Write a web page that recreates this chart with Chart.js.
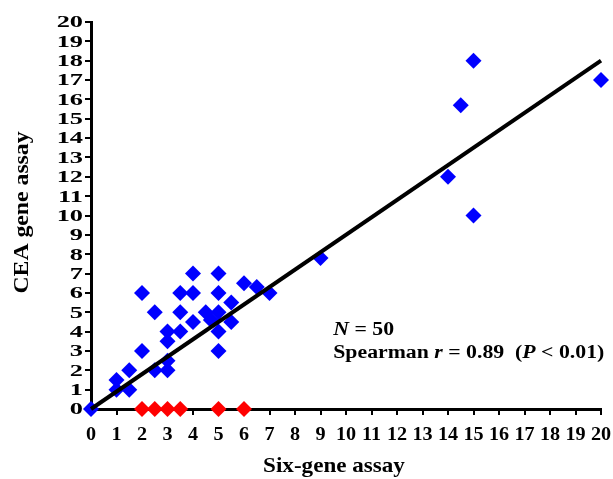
<!DOCTYPE html>
<html lang="en">
<head>
    <meta charset="UTF-8">
    <title>Six-gene assay vs CEA gene assay</title>
    <script src="https://cdn.jsdelivr.net/npm/chart.js"></script>
    <style>
        body { margin: 0; background: #fff; }
        #chart { display: block; }
    </style>
</head>
<body>
    <canvas id="chart" width="613" height="479"></canvas>
    <script>
        // blue diamonds (both assays positive)
        const blueX = [0, 1, 1, 1.5, 1.5, 2, 2, 2.5, 2.5, 3, 3, 3, 3, 3.5, 3.5, 3.5, 4, 4, 4, 4.5, 4.7,
                       5, 5, 5, 5, 5, 5.5, 5.5, 6, 6.5, 7, 9, 14, 14.5, 15, 15, 20];
        const blueY = [0, 1.5, 1, 1, 2, 3, 6, 2, 5, 2.5, 2, 3.5, 4, 4, 5, 6, 7, 6, 4.5, 5, 4.6,
                       7, 6, 5, 4, 3, 5.5, 4.5, 6.5, 6.3, 6, 7.8, 12, 15.7, 18, 10, 17];
        // red diamonds (CEA negative)
        const redX = [2, 2.5, 3, 3.5, 5, 6];
        const redY = [0, 0, 0, 0, 0, 0];
        // fitted line end points
        const fitX = [0, 20];
        const fitY = [0, 18];

        const xTitle = 'Six-gene assay';
        const yTitle = 'CEA gene assay';

        const toPoints = (xs, ys) => xs.map((x, i) => ({ x: x, y: ys[i] }));

        const serif = "'Liberation Serif', 'Times New Roman', serif";

        // the original figure has horizontally stretched lettering, so text is drawn by hand
        function drawText(ctx, text, x, y, font, sx, align, baseline, rot) {
            ctx.save();
            ctx.translate(x, y);
            if (rot) ctx.rotate(rot);
            ctx.scale(sx, 1);
            ctx.font = font;
            ctx.textAlign = align;
            ctx.textBaseline = baseline;
            ctx.fillText(text, 0, 0);
            ctx.restore();
        }

        const textLayer = {
            id: 'textLayer',
            afterDraw(chart) {
                const ctx = chart.ctx;
                const xs = chart.scales.x, ys = chart.scales.y;
                const area = chart.chartArea;
                ctx.save();
                ctx.fillStyle = '#000';

                // tick labels
                ys.ticks.forEach(t => {
                    drawText(ctx, String(t.value), area.left - 8, ys.getPixelForValue(t.value) + 1,
                             'bold 17px ' + serif, 1.55, 'right', 'middle');
                });
                xs.ticks.forEach(t => {
                    drawText(ctx, String(t.value), xs.getPixelForValue(t.value), area.bottom + 26,
                             'bold 18px ' + serif, 1.12, 'center', 'middle');
                });

                // axis titles
                drawText(ctx, xTitle, (area.left + area.right) / 2 - 12, area.bottom + 63,
                         'bold 21px ' + serif, 1.1, 'center', 'alphabetic');
                drawText(ctx, yTitle, 23, (area.top + area.bottom) / 2 - 3,
                         'bold 21px ' + serif, 1.13, 'center', 'middle', -Math.PI / 2);

                // N / Spearman block
                const startX = xs.getPixelForValue(9.5);
                const lines = [
                    [ys.getPixelForValue(3.85), [['italic bold', 'N'], ['bold', ' = 50']]],
                    [ys.getPixelForValue(2.62), [['bold', 'Spearman '], ['italic bold', 'r'], ['bold', ' = 0.89  ('],
                                                ['italic bold', 'P'], ['bold', ' < 0.01)']]]
                ];
                const sx = 1.21;
                lines.forEach(line => {
                    let cx = startX;
                    line[1].forEach(p => {
                        const font = p[0] + ' 18px ' + serif;
                        drawText(ctx, p[1], cx, line[0], font, sx, 'left', 'alphabetic');
                        ctx.font = font;
                        cx += ctx.measureText(p[1]).width * sx;
                    });
                });
                ctx.restore();
            }
        };

        const ctx = document.getElementById('chart').getContext('2d');
        new Chart(ctx, {
            type: 'scatter',
            data: {
                datasets: [
                    {
                        type: 'line',
                        data: toPoints(fitX, fitY),
                        borderColor: '#000',
                        borderWidth: 4,
                        pointRadius: 0,
                        fill: false,
                        clip: false,
                        order: 0
                    },
                    {
                        data: toPoints(redX, redY),
                        pointStyle: 'rectRot',
                        pointRadius: 8,
                        pointBackgroundColor: '#ff0000',
                        pointBorderColor: '#ff0000',
                        pointBorderWidth: 0,
                        clip: false,
                        order: 1
                    },
                    {
                        data: toPoints(blueX, blueY),
                        pointStyle: 'rectRot',
                        pointRadius: 8,
                        pointBackgroundColor: '#0000ff',
                        pointBorderColor: '#0000ff',
                        pointBorderWidth: 0,
                        clip: false,
                        order: 2
                    }
                ]
            },
            options: {
                responsive: false,
                animation: false,
                devicePixelRatio: 1,
                layout: { padding: { left: 0, right: 12, top: 22, bottom: 0 } },
                plugins: {
                    legend: { display: false },
                    tooltip: { enabled: false }
                },
                scales: {
                    x: {
                        type: 'linear',
                        min: 0,
                        max: 20,
                        afterFit(scale) { scale.height = 70; },
                        border: { color: '#000', width: 3 },
                        grid: { drawOnChartArea: false, drawTicks: true, tickLength: 6, color: '#000', lineWidth: 2 },
                        ticks: { stepSize: 1, autoSkip: false, maxRotation: 0, display: false }
                    },
                    y: {
                        type: 'linear',
                        min: 0,
                        max: 20,
                        afterFit(scale) { scale.width = 91; },
                        border: { color: '#000', width: 3 },
                        grid: { drawOnChartArea: false, drawTicks: true, tickLength: 6, color: '#000', lineWidth: 2 },
                        ticks: { stepSize: 1, autoSkip: false, display: false }
                    }
                }
            },
            plugins: [textLayer]
        });
    </script>
</body>
</html>
